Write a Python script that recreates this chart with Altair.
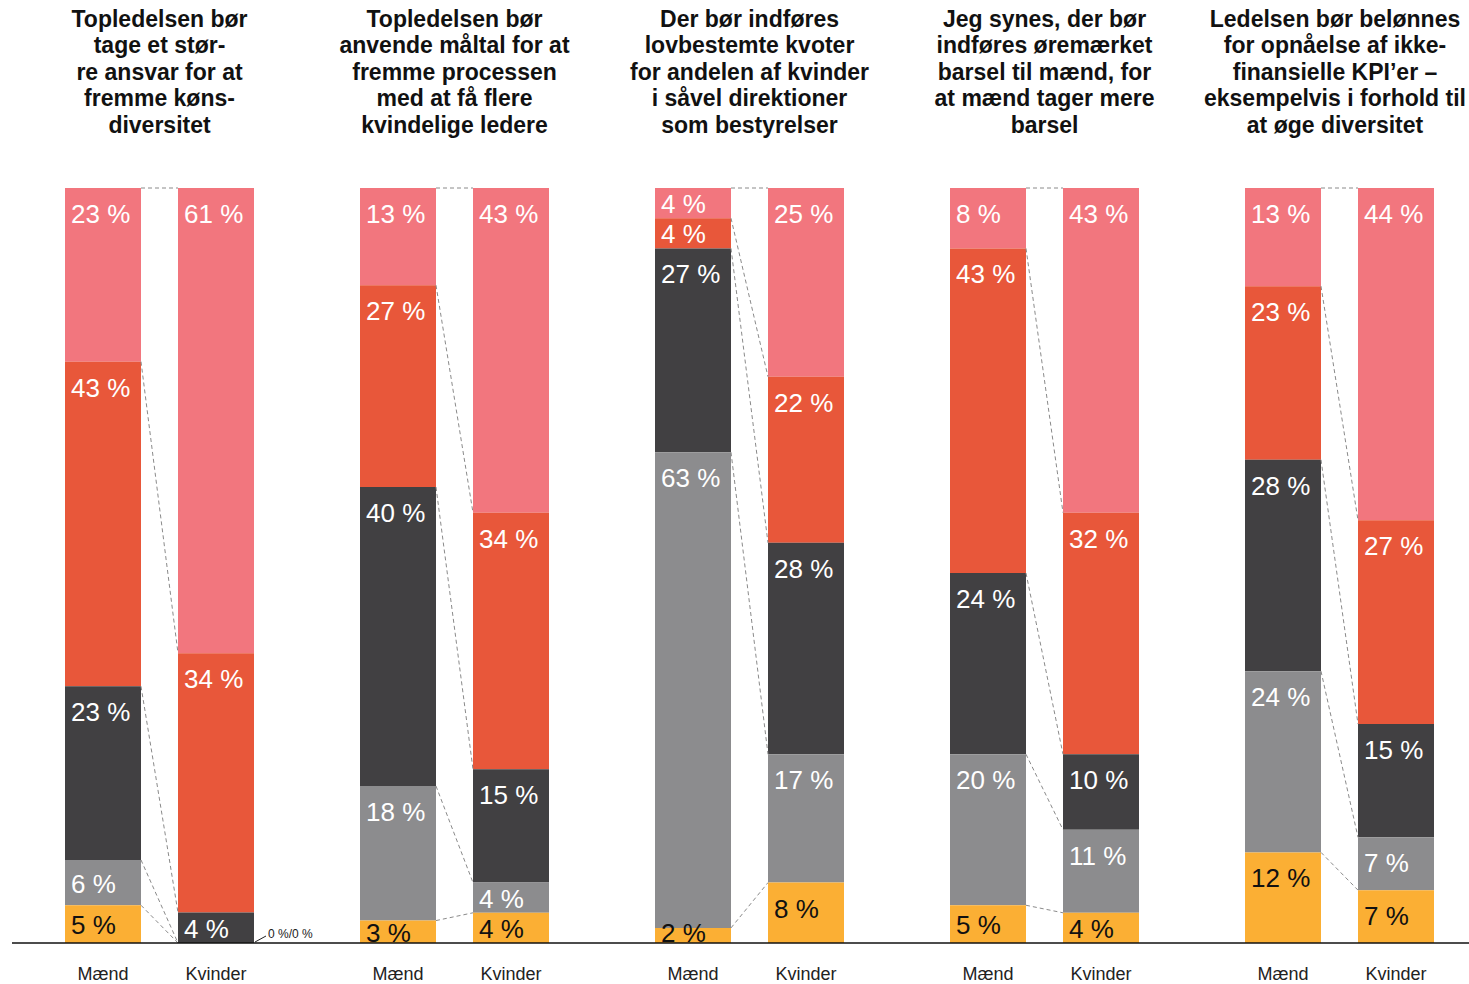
import altair as alt
import pandas as pd

# ---------------- data ----------------
titles = [
    ["Topledelsen bør", "tage et stør-", "re ansvar for at", "fremme køns-", "diversitet"],
    ["Topledelsen bør", "anvende måltal for at", "fremme processen", "med at få flere", "kvindelige ledere"],
    ["Der bør indføres", "lovbestemte kvoter", "for andelen af kvinder", "i såvel direktioner", "som bestyrelser"],
    ["Jeg synes, der bør", "indføres øremærket", "barsel til mænd, for", "at mænd tager mere", "barsel"],
    ["Ledelsen bør belønnes", "for opnåelse af ikke-", "finansielle KPI’er –", "eksempelvis i forhold til", "at øge diversitet"],
]
sexes = ["Mænd", "Kvinder"]
levels = ["Niveau 1", "Niveau 2", "Niveau 3", "Niveau 4", "Niveau 5"]  # top -> bottom
colors = ["#F2767E", "#E8573A", "#414042", "#8C8C8E", "#FBAF34"]
label_colors = ["#FFFFFF", "#FFFFFF", "#FFFFFF", "#FFFFFF", "#111111"]

maend = [
    [23, 43, 23, 6, 5],
    [13, 27, 40, 18, 3],
    [4, 4, 27, 63, 2],
    [8, 43, 24, 20, 5],
    [13, 23, 28, 24, 12],
]
kvinder = [
    [61, 34, 4, 0, 0],
    [43, 34, 15, 4, 4],
    [25, 22, 28, 17, 8],
    [43, 32, 10, 11, 4],
    [44, 27, 15, 7, 7],
]
zero_note = "0 %/0 %"

# ---------------- layout (pixel geometry -> scale units) ----------------
W, H = 1469, 984
TOP_PX, BASE_PX = 188, 943
PLOT_H = BASE_PX - TOP_PX
FIRST_PX, GROUP_PX, BAR_STEP_PX, BAR_W_PX = 103, 295, 113, 76
TITLE_FONT = 23
TITLE_RIGHT_LIMIT_PX = 1335  # keep the last title inside the page

def xu(px):
    return (px - FIRST_PX) / GROUP_PX

def yu(px):
    return (BASE_PX - px) / PLOT_H

x_dom = [xu(0), xu(W)]
y_dom = [yu(H), yu(0)]
HW = BAR_W_PX / 2 / GROUP_PX
SOFF = BAR_STEP_PX / GROUP_PX

bars, labels, links, cats = [], [], [], []
for g in range(5):
    tops = {}
    for s, vals in enumerate([maend[g], kvinder[g]]):
        tot = sum(vals)
        cx = g + s * SOFF
        cats.append({"x": cx, "y": yu(980), "t": sexes[s]})
        cum = 1.0
        bnds = [1.0]
        for l, v in enumerate(vals):
            top = cum
            bot = cum - v / tot
            cum = bot
            bnds.append(max(bot, 0.0))
            if v == 0:
                continue
            bars.append({"g": g, "sex": sexes[s], "level": levels[l], "x": cx - HW, "x2": cx + HW,
                         "y": top, "y2": max(bot, 0.0), "v": v})
            h_px = (top - bot) * PLOT_H
            off = min(35.0, h_px - 1.0, h_px / 2 + 10.0)
            labels.append({"x": cx - HW + 6 / GROUP_PX, "y": top - off / PLOT_H,
                           "t": f"{v} %", "c": label_colors[l]})
        tops[s] = bnds
    for b in range(5):
        links.append({"x": g + HW, "x2": g + SOFF - HW, "y": tops[0][b], "y2": tops[1][b]})

bars_df = pd.DataFrame(bars)
labels_df = pd.DataFrame(labels)
links_df = pd.DataFrame(links)
cats_df = pd.DataFrame(cats)
titles_df = pd.DataFrame([{"x": min(g + SOFF / 2, xu(TITLE_RIGHT_LIMIT_PX)), "y": yu(26.7), "t": titles[g]}
                          for g in range(5)])
note_df = pd.DataFrame([{"x": SOFF + HW + 14 / GROUP_PX, "y": yu(938), "t": zero_note}])
lead_df = pd.DataFrame([{"x": SOFF + HW + 1 / GROUP_PX, "x2": SOFF + HW + 12 / GROUP_PX,
                         "y": yu(942), "y2": yu(936)}])
base_df = pd.DataFrame([{"x": xu(12), "x2": xu(W), "y": 0.0}])

xs = alt.Scale(domain=x_dom, nice=False, zero=False)
ys = alt.Scale(domain=y_dom, nice=False, zero=False)

def X(f="x"):
    return alt.X(f"{f}:Q", scale=xs, axis=None)

def Y(f="y"):
    return alt.Y(f"{f}:Q", scale=ys, axis=None)

bar_layer = alt.Chart(bars_df).mark_bar(stroke=None).encode(
    x=X(), x2="x2:Q", y=Y(), y2="y2:Q",
    color=alt.Color("level:N", scale=alt.Scale(domain=levels, range=colors), legend=None),
)

link_layer = alt.Chart(links_df).mark_rule(color="#8a8a8a", strokeWidth=1, strokeDash=[4, 3]).encode(
    x=X(), x2="x2:Q", y=Y(), y2="y2:Q")

label_layer = alt.Chart(labels_df).mark_text(
    align="left", baseline="alphabetic", font="Liberation Sans", fontSize=26
).encode(x=X(), y=Y(), text="t:N", color=alt.Color("c:N", scale=None))

cat_layer = alt.Chart(cats_df).mark_text(
    align="center", baseline="alphabetic", font="Liberation Sans", fontSize=18, color="#222222"
).encode(x=X(), y=Y(), text="t:N")

title_layer = alt.Chart(titles_df).mark_text(
    align="center", baseline="alphabetic", font="Liberation Sans", fontSize=TITLE_FONT, fontWeight="bold",
    lineHeight=26.6, color="#111111"
).encode(x=X(), y=Y(), text="t")

note_layer = alt.Chart(note_df).mark_text(
    align="left", baseline="alphabetic", font="Liberation Sans", fontSize=12, color="#222222"
).encode(x=X(), y=Y(), text="t:N")

lead_layer = alt.Chart(lead_df).mark_rule(color="#222222", strokeWidth=1).encode(
    x=X(), x2="x2:Q", y=Y(), y2="y2:Q")

base_layer = alt.Chart(base_df).mark_rule(color="#111111", strokeWidth=1.5).encode(
    x=X(), x2="x2:Q", y=Y())

chart = alt.layer(
    bar_layer, link_layer, label_layer, cat_layer, title_layer, note_layer, lead_layer, base_layer
).properties(
    width=W, height=H, padding=0, autosize=alt.AutoSizeParams(type="none")
).configure_view(stroke=None)

chart.save("out.html", embed_options={"renderer": "svg", "actions": False})
